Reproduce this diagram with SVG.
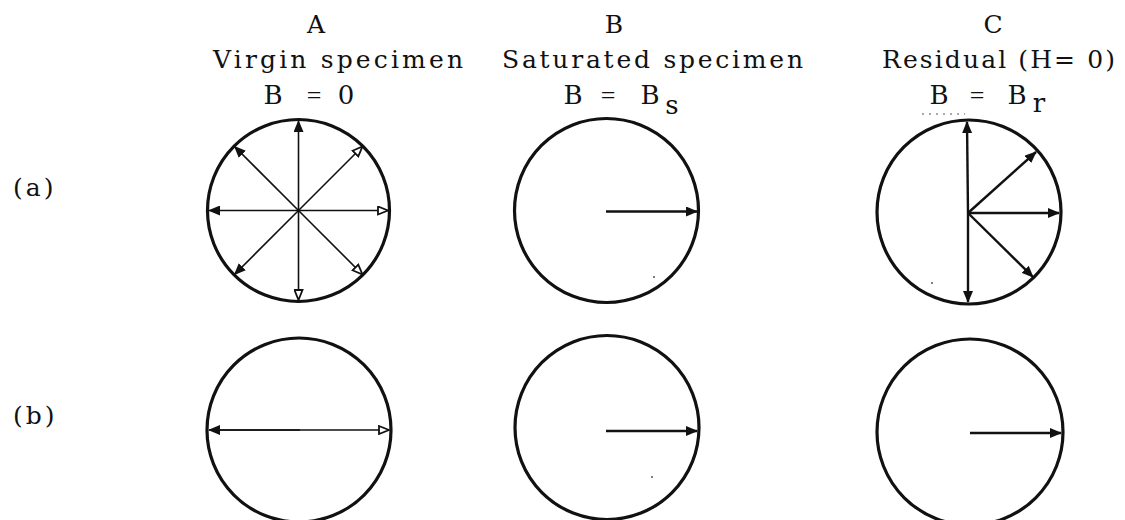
<svg xmlns="http://www.w3.org/2000/svg" width="1125" height="520" viewBox="0 0 1125 520">
<style>
text{font-family:"DejaVu Serif","Liberation Serif",serif;font-size:25px;fill:#111}
.h{letter-spacing:3px}
.eq{text-anchor:middle;font-size:26px}
.n{font-family:"Liberation Serif",serif}
.c{fill:none;stroke:#111;stroke-width:3.2}
.t{stroke:#111;stroke-width:1.6;fill:none}
.k{stroke:#111;stroke-width:2.4;fill:none}
</style>
<defs>
<marker id="f" viewBox="0 0 12 10" refX="11" refY="5" markerWidth="12" markerHeight="10" markerUnits="userSpaceOnUse" orient="auto"><path d="M0,0 L12,5 L0,10 z" fill="#111"/></marker>
<marker id="o" viewBox="0 0 12 10" refX="11" refY="5" markerWidth="12" markerHeight="10" markerUnits="userSpaceOnUse" orient="auto"><path d="M1,1 L11,5 L1,9 z" fill="#fff" stroke="#111" stroke-width="1.8"/></marker>
</defs>
<g id="headers">
<text x="316" y="33" text-anchor="middle">A</text>
<text class="h" x="213" y="68" textLength="253" lengthAdjust="spacing">Virgin specimen</text>
<text class="eq" y="104"><tspan x="273">B</tspan><tspan class="n" x="314">=</tspan><tspan x="346">0</tspan></text>
<text x="614" y="33" text-anchor="middle">B</text>
<text class="h" x="502" y="68" textLength="304" lengthAdjust="spacing">Saturated specimen</text>
<text class="eq" y="104"><tspan x="573">B</tspan><tspan class="n" x="608">=</tspan><tspan x="650">B</tspan><tspan x="672" y="114">s</tspan></text>
<text x="993" y="33" text-anchor="middle">C</text>
<text class="h" x="882" y="68" textLength="236" lengthAdjust="spacing">Residual (H= 0)</text>
<text class="eq" y="104"><tspan x="939">B</tspan><tspan class="n" x="977">=</tspan><tspan x="1017">B</tspan><tspan x="1039" y="112">r</tspan></text>
<text class="h" x="13" y="196">(a)</text>
<text class="h" x="13" y="424">(b)</text>
</g>
<g id="node-Aa"><circle class="c" cx="298.5" cy="210.5" r="91"/></g>
<g id="node-Ba"><circle class="c" cx="606.5" cy="210.5" r="92"/></g>
<g id="node-Ca"><circle class="c" cx="969" cy="212" r="92"/></g>
<g id="node-Ab"><circle class="c" cx="299" cy="430" r="92"/></g>
<g id="node-Bb"><circle class="c" cx="607" cy="427.5" r="92"/></g>
<g id="node-Cb"><circle class="c" cx="970" cy="432" r="93"/></g>
<g id="specks" fill="#555">
<path d="M922,114 H965" stroke="#555" stroke-width="1.2" stroke-dasharray="2 5" fill="none"/>
<circle cx="654" cy="277" r="1"/>
<circle cx="652" cy="477" r="1"/>
<circle cx="932" cy="283" r="1"/>
</g>
<g id="connectors">
<line class="t" x1="298.5" y1="210.5" x2="298.5" y2="121" marker-end="url(#f)"/>
<line class="t" x1="298.5" y1="210.5" x2="234.5" y2="146.5" marker-end="url(#f)"/>
<line class="t" x1="298.5" y1="210.5" x2="209" y2="210.5" marker-end="url(#f)"/>
<line class="t" x1="298.5" y1="210.5" x2="234.5" y2="274.5" marker-end="url(#f)"/>
<line class="t" x1="298.5" y1="210.5" x2="362.5" y2="146.5" marker-end="url(#o)"/>
<line class="t" x1="298.5" y1="210.5" x2="388" y2="210.5" marker-end="url(#o)"/>
<line class="t" x1="298.5" y1="210.5" x2="362.5" y2="274.5" marker-end="url(#o)"/>
<line class="t" x1="298.5" y1="210.5" x2="298.5" y2="300" marker-end="url(#o)"/>
<line class="k" x1="606" y1="211.5" x2="697" y2="211.5" marker-end="url(#f)"/>
<line class="k" x1="968" y1="213" x2="967" y2="122" marker-end="url(#f)"/>
<line class="k" x1="968" y1="213" x2="1036" y2="152" marker-end="url(#f)"/>
<line class="k" x1="968" y1="213" x2="1059" y2="213" marker-end="url(#f)"/>
<line class="k" x1="968" y1="213" x2="1033" y2="277" marker-end="url(#f)"/>
<line class="k" x1="968" y1="213" x2="968" y2="302" marker-end="url(#f)"/>
<line class="t" x1="215" y1="430" x2="389" y2="430" marker-end="url(#o)"/>
<line class="t" x1="300" y1="430" x2="209" y2="430" marker-end="url(#f)"/>
<line class="k" x1="606" y1="431" x2="697" y2="431" marker-end="url(#f)"/>
<line class="k" x1="970" y1="433" x2="1061" y2="433" marker-end="url(#f)"/>
</g>
</svg>
